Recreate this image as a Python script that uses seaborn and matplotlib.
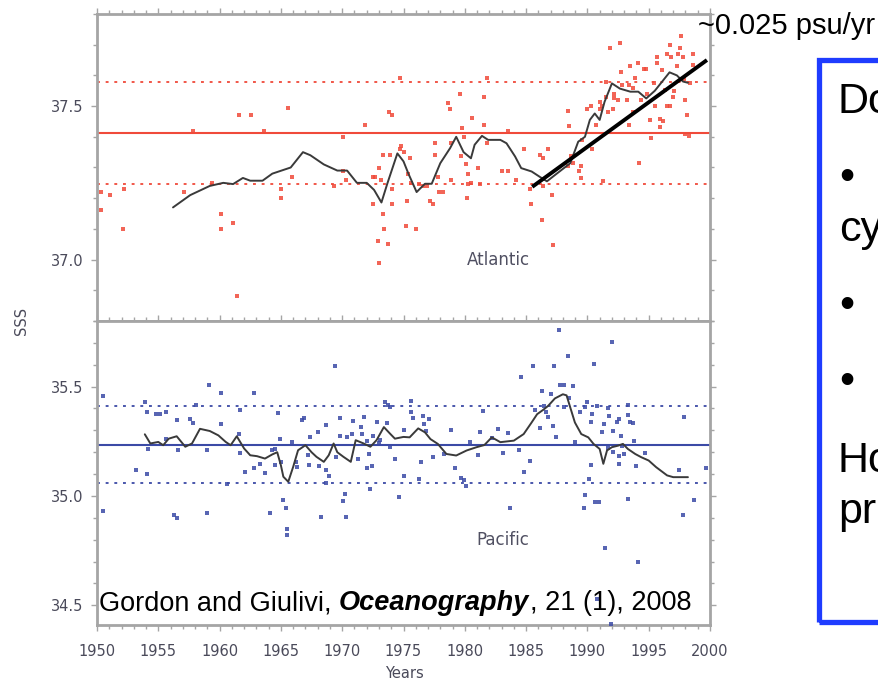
import numpy as np
import pandas as pd
import matplotlib
matplotlib.use("Agg")
import matplotlib.pyplot as plt
import seaborn as sns
from matplotlib.ticker import MultipleLocator, FormatStrFormatter
from matplotlib.patches import Rectangle

# ---------------- data ----------------
atl_year = [
    1950.3, 1950.3, 1951.1, 1952.2, 1952.1, 1957.1, 1957.8, 1959.4, 1960.1, 1960.1,
    1961.1, 1961.6, 1962.6, 1961.4, 1963.6, 1965.6, 1965.0, 1965.0, 1965.9, 1969.3,
    1970.1, 1970.1, 1970.3, 1971.9, 1972.5, 1972.5, 1972.7, 1973.0, 1973.2, 1973.3,
    1973.9, 1973.8, 1974.1, 1973.3, 1973.4, 1972.9, 1973.7, 1973.0, 1974.1, 1974.1,
    1974.7, 1974.8, 1975.0, 1975.5, 1975.4, 1975.3, 1975.2, 1975.6, 1976.0, 1974.7,
    1976.3, 1976.6, 1976.9, 1977.2, 1977.4, 1977.6, 1977.6, 1977.8, 1977.9, 1978.2,
    1978.65, 1978.8, 1978.9, 1978.9, 1979.6, 1979.8, 1979.9, 1979.66, 1980.1, 1980.3,
    1980.3, 1980.15, 1980.5, 1980.6, 1981.1, 1981.2, 1981.6, 1981.6, 1981.8, 1981.8,
    1983.0, 1983.5, 1983.5, 1984.2, 1984.8, 1985.3, 1985.4, 1986.1, 1986.4, 1986.8,
    1986.4, 1986.3, 1987.1, 1987.2, 1988.4, 1988.5, 1988.4, 1988.7, 1988.85, 1989.3,
    1989.5, 1989.6, 1989.5, 1990.0, 1990.3, 1990.4, 1990.7, 1991.0, 1991.2, 1991.3,
    1991.5, 1991.5, 1991.7, 1991.85, 1992.2, 1992.2, 1992.5, 1992.65, 1992.7, 1992.8,
    1993.2, 1993.4, 1993.5, 1993.7, 1993.9, 1994.1, 1994.2, 1994.4, 1994.6, 1994.8,
    1994.9, 1995.1, 1995.2, 1995.4, 1995.5, 1995.65, 1995.7, 1995.9, 1996.05, 1996.2,
    1996.3, 1996.5, 1996.7, 1996.8, 1996.95, 1997.1, 1997.3, 1997.4, 1997.55, 1997.6,
    1997.76, 1997.87, 1998.0, 1998.1, 1998.0, 1998.3, 1998.4, 1998.6, 1998.6, 1996.5,
    1996.7, 1995.9, 1993.4, 1993.7, 1992.1, 1991.0,
]
atl_sss = [
    37.22, 37.16, 37.21, 37.23, 37.10, 37.22, 37.42, 37.25, 37.15, 37.10,
    37.12, 37.47, 37.47, 36.88, 37.42, 37.495, 37.23, 37.20, 37.27, 37.24,
    37.40, 37.29, 37.26, 37.44, 37.18, 37.27, 37.27, 37.30, 37.26, 37.34,
    37.34, 37.48, 37.47, 37.15, 37.10, 37.06, 37.05, 36.99, 37.23, 37.18,
    37.36, 37.37, 37.35, 37.33, 37.28, 37.19, 37.11, 37.25, 37.10, 37.59,
    37.247, 37.24, 37.24, 37.19, 37.18, 37.38, 37.34, 37.27, 37.22, 37.22,
    37.51, 37.49, 37.38, 37.26, 37.54, 37.43, 37.40, 37.336, 37.31, 37.28,
    37.247, 37.20, 37.25, 37.46, 37.30, 37.247, 37.53, 37.44, 37.59, 37.38,
    37.29, 37.29, 37.42, 37.26, 37.36, 37.23, 37.18, 37.34, 37.33, 37.36,
    37.24, 37.13, 37.21, 37.046, 37.485, 37.435, 37.305, 37.336, 37.316, 37.29,
    37.265, 37.39, 37.305, 37.49, 37.50, 37.36, 37.44, 37.49, 37.50, 37.255,
    37.58, 37.53, 37.48, 37.69, 37.54, 37.525, 37.52, 37.704, 37.61, 37.57,
    37.52, 37.57, 37.63, 37.56, 37.59, 37.64, 37.314, 37.52, 37.62, 37.62,
    37.54, 37.455, 37.395, 37.574, 37.50, 37.66, 37.64, 37.457, 37.617, 37.45,
    37.554, 37.67, 37.70, 37.66, 37.53, 37.55, 37.63, 37.67, 37.69, 37.727,
    37.66, 37.587, 37.52, 37.47, 37.41, 37.403, 37.574, 37.67, 37.633, 37.50,
    37.50, 37.433, 37.44, 37.48, 37.49, 37.514,
]

atl_rm_year = [
    1956.2, 1957.6, 1959.2, 1960.3, 1961.1, 1961.9, 1962.5, 1963.5, 1964.3, 1965.8,
    1966.8, 1967.4, 1968.5, 1969.6, 1970.4, 1971.2, 1972.0, 1972.6, 1973.2, 1973.7,
    1974.5, 1975.0, 1975.4, 1976.07, 1976.75, 1977.3, 1978.0, 1978.8, 1979.3, 1979.9,
    1980.5, 1980.8, 1981.4, 1981.9, 1982.9, 1983.4, 1984.1, 1984.6, 1985.45, 1986.1,
    1986.7, 1987.5, 1988.6, 1989.25, 1989.8, 1990.2, 1990.6, 1991.0, 1991.4, 1992.0,
    1992.65, 1993.5, 1994.15, 1994.8, 1995.5, 1996.2, 1996.7, 1997.3, 1997.8, 1998.2,
]
atl_rm_sss = [
    37.17, 37.21, 37.24, 37.25, 37.246, 37.266, 37.257, 37.257, 37.28, 37.30,
    37.35, 37.34, 37.31, 37.29, 37.29, 37.25, 37.25, 37.227, 37.186, 37.25,
    37.346, 37.32, 37.28, 37.22, 37.247, 37.247, 37.314, 37.363, 37.40, 37.35,
    37.33, 37.374, 37.403, 37.39, 37.39, 37.379, 37.336, 37.298, 37.287, 37.27,
    37.255, 37.28, 37.314, 37.384, 37.40, 37.455, 37.476, 37.455, 37.514, 37.574,
    37.557, 37.547, 37.547, 37.525, 37.55, 37.585, 37.61, 37.60, 37.58, 37.576,
]

pac_year = [
    1950.5, 1950.5, 1953.2, 1953.9, 1954.1, 1954.2, 1954.1, 1954.8, 1955.1, 1955.6,
    1955.6, 1956.5, 1956.6, 1956.3, 1956.5, 1957.6, 1957.8, 1958.1, 1959.0, 1959.0,
    1959.1, 1960.1, 1960.1, 1960.6, 1961.6, 1961.7, 1961.7, 1962.1, 1962.8, 1962.8,
    1963.3, 1963.7, 1964.1, 1964.3, 1964.5, 1964.5, 1964.8, 1964.9, 1965.0, 1965.2,
    1965.4, 1965.5, 1965.5, 1965.9, 1966.2, 1966.3, 1966.7, 1966.9, 1967.2, 1967.3,
    1967.4, 1968.0, 1968.1, 1968.3, 1968.7, 1968.7, 1968.9, 1968.7, 1969.4, 1969.5,
    1969.8, 1969.8, 1970.2, 1970.1, 1970.3, 1970.4, 1970.8, 1970.9, 1971.3, 1971.5,
    1971.8, 1971.6, 1972.0, 1972.0, 1972.2, 1972.3, 1972.4, 1972.5, 1972.8, 1973.0,
    1973.1, 1973.5, 1973.7, 1973.9, 1973.65, 1973.9, 1974.3, 1974.6, 1975.0, 1975.0,
    1975.6, 1975.6, 1975.8,
    1976.3, 1976.4, 1976.6, 1976.7, 1977.1, 1976.8, 1977.4, 1978.3, 1978.9, 1979.2,
    1979.7, 1979.9, 1980.1, 1980.4, 1981.1, 1981.2, 1981.5, 1982.2, 1982.7, 1983.1,
    1983.5, 1983.7, 1984.4, 1984.6, 1984.8, 1985.3, 1985.6, 1985.7, 1986.1, 1986.3,
    1986.5, 1986.6, 1986.8, 1987.0, 1987.2, 1987.3, 1987.4, 1987.7, 1987.8, 1988.1,
    1988.4, 1988.5, 1988.1, 1988.8, 1989.0, 1989.4, 1989.8, 1990.0, 1990.1, 1989.8,
    1989.7, 1990.3, 1990.4, 1990.3, 1990.5, 1990.6, 1990.97, 1990.8, 1991.2, 1991.35,
    1991.4, 1991.7, 1991.8, 1992.0, 1992.1, 1992.4, 1992.6, 1992.7, 1992.6, 1993.3,
    1993.3, 1993.5, 1993.7, 1993.8, 1993.3, 1994.0, 1994.7, 1997.5, 1997.9, 1997.8,
    1998.7, 1999.7, 1991.7, 1992.1, 1992.6, 1992.8, 1993.0, 1990.75, 1991.95, 1994.1,
]
pac_sss = [
    35.456, 34.929, 35.12, 35.43, 35.383, 35.217, 35.10, 35.373, 35.373, 35.383,
    35.262, 35.349, 35.209, 34.914, 34.90, 35.353, 35.333, 35.414, 35.209, 34.921,
    35.509, 35.471, 35.327, 35.055, 35.282, 35.391, 35.197, 35.11, 35.13, 35.47,
    35.148, 35.106, 34.921, 35.212, 35.217, 35.14, 35.379, 35.262, 35.156, 34.982,
    34.944, 34.848, 34.823, 35.247, 35.156, 35.133, 35.349, 35.358, 35.186, 35.14,
    35.27, 35.292, 35.136, 34.906, 35.12, 35.326, 35.09, 35.057, 35.595, 35.179,
    35.273, 35.358, 35.01, 34.979, 34.906, 35.27, 35.282, 35.345, 35.167, 35.315,
    35.36, 35.285, 35.25, 35.13, 35.19, 35.03, 35.137, 35.273, 35.338, 35.24,
    35.255, 35.43, 35.414, 35.406, 35.333, 35.225, 35.171, 34.994, 35.09, 35.30,
    35.433, 35.383, 35.358,
    35.079, 35.155, 35.367, 35.329, 35.352, 35.299, 35.177, 35.192, 35.303, 35.127,
    35.082, 35.071, 35.046, 35.249, 35.188, 35.294, 35.39, 35.264, 35.306, 35.197,
    35.288, 34.946, 35.212, 35.546, 35.109, 35.162, 35.594, 35.394, 35.309, 35.48,
    35.412, 35.385, 35.36, 35.465, 35.321, 35.594, 35.268, 35.758, 35.506, 35.506,
    35.64, 35.446, 35.405, 35.503, 35.249, 35.385, 35.405, 35.43, 35.079, 35.003,
    34.946, 35.34, 35.374, 35.143, 35.602, 34.973, 34.973, 35.412, 35.291, 35.329,
    34.764, 35.40, 35.367, 35.703, 35.299, 35.336, 35.352, 35.276, 35.147, 35.415,
    35.37, 35.336, 35.333, 35.253, 34.985, 35.139, 35.197, 35.117, 35.359, 34.915,
    34.98, 35.127, 35.22, 35.20, 35.185, 35.23, 35.19, 34.53, 34.415, 34.70,
]

pac_rm_year = [
    1953.9, 1954.35, 1955.0, 1955.4, 1955.85, 1956.5, 1957.2, 1957.75, 1958.4, 1959.2,
    1959.9, 1960.5, 1960.9, 1961.4, 1962.0, 1962.5, 1963.05, 1963.7, 1964.3, 1964.7,
    1965.0, 1965.2, 1965.6, 1966.0, 1966.4, 1967.0, 1967.5, 1967.9, 1968.5, 1968.9,
    1969.3, 1969.6, 1970.1, 1970.7, 1971.1, 1971.75, 1972.3, 1972.8, 1973.4, 1973.9,
    1974.3, 1975.0, 1975.5, 1976.2, 1976.75, 1977.2, 1977.8, 1978.5, 1979.3, 1980.15,
    1980.96, 1981.6, 1982.2, 1982.9, 1984.0, 1984.8, 1985.45, 1985.9, 1986.4, 1986.8,
    1987.35, 1988.0, 1988.3, 1988.6, 1988.98, 1989.5, 1990.07, 1990.5, 1991.0, 1991.3,
    1991.6, 1992.0, 1992.5, 1992.9, 1993.3, 1993.9, 1994.4, 1995.0, 1995.6, 1996.5,
    1997.0, 1998.2,
]
pac_rm_sss = [
    35.282, 35.24, 35.247, 35.232, 35.262, 35.273, 35.225, 35.24, 35.307, 35.297,
    35.277, 35.247, 35.232, 35.273, 35.217, 35.186, 35.182, 35.171, 35.19, 35.20,
    35.14, 35.088, 35.065, 35.133, 35.209, 35.232, 35.20, 35.179, 35.156, 35.186,
    35.24, 35.20, 35.179, 35.156, 35.255, 35.24, 35.225, 35.255, 35.315, 35.285,
    35.262, 35.27, 35.268, 35.309, 35.291, 35.26, 35.238, 35.192, 35.185, 35.208,
    35.223, 35.233, 35.268, 35.246, 35.253, 35.283, 35.336, 35.374, 35.394, 35.412,
    35.446, 35.465, 35.46, 35.405, 35.336, 35.283, 35.268, 35.238, 35.215, 35.147,
    35.208, 35.223, 35.23, 35.238, 35.215, 35.192, 35.177, 35.162, 35.132, 35.094,
    35.086, 35.086,
]

atl_mean, atl_std = 37.413, 0.166
pac_mean, pac_std = 35.235, 0.176

trend_year = [1985.5, 1999.75]
trend_sss = [37.237, 37.65]

atl_ylim = (36.8, 37.8)
pac_ylim = (34.41, 35.8)
year_lim = (1950, 2000)

# ---------------- style ----------------
sns.set_theme(style="white")
plt.rcParams['font.family'] = ['DejaVu Sans']

RED = '#f04a3a'
BLUE = '#3b4aa6'
RUN = '#3a3a3a'
SPINE = '#a5a5a5'
LABEL = '#4a4a5a'
SLIDE_FONT = ['Liberation Sans', 'DejaVu Sans']

W, H = 879, 683
fig = plt.figure(figsize=(W / 100, H / 100), dpi=100)
fig.patch.set_facecolor('white')


def fx(px):
    return px / W


def fy(py):
    return 1 - py / H


ax_top = fig.add_axes([fx(97), fy(321), fx(710) - fx(97), fy(14) - fy(321)])
ax_bot = fig.add_axes([fx(97), fy(625), fx(710) - fx(97), fy(321) - fy(625)])

atl_df = pd.DataFrame({'year': atl_year, 'sss': atl_sss})
pac_df = pd.DataFrame({'year': pac_year, 'sss': pac_sss})
atl_rm = pd.DataFrame({'year': atl_rm_year, 'sss': atl_rm_sss})
pac_rm = pd.DataFrame({'year': pac_rm_year, 'sss': pac_rm_sss})

for ax, pts, rm, col, mean, std, ylim in [
    (ax_top, atl_df, atl_rm, RED, atl_mean, atl_std, atl_ylim),
    (ax_bot, pac_df, pac_rm, BLUE, pac_mean, pac_std, pac_ylim),
]:
    ax.axhline(mean, color=col, lw=1.5, zorder=2)
    ax.axhline(mean + std, color=col, lw=1.3, ls=(0, (1.6, 3.2)), zorder=2)
    ax.axhline(mean - std, color=col, lw=1.3, ls=(0, (1.6, 3.2)), zorder=2)
    sns.scatterplot(data=pts, x='year', y='sss', ax=ax, color=col, marker='s',
                    s=12, linewidth=0, alpha=0.85, legend=False, zorder=3)
    sns.lineplot(data=rm, x='year', y='sss', ax=ax, color=RUN, lw=1.4,
                 estimator=None, sort=False, zorder=4)
    ax.set_xlim(*year_lim)
    ax.set_ylim(*ylim)
    ax.set_xlabel('')
    ax.set_ylabel('')
    for s in ax.spines.values():
        s.set_visible(True)
        s.set_color(SPINE)
        s.set_linewidth(2.0)
    ax.xaxis.set_major_locator(MultipleLocator(5))
    ax.xaxis.set_minor_locator(MultipleLocator(1))
    ax.yaxis.set_major_locator(MultipleLocator(0.5))
    ax.yaxis.set_minor_locator(MultipleLocator(0.1))
    ax.yaxis.set_major_formatter(FormatStrFormatter('%.1f'))
    ax.tick_params(which='both', direction='out', color=SPINE, width=1.0,
                   labelcolor=LABEL, labelsize=10.5)
    ax.tick_params(which='major', length=4.5)
    ax.tick_params(which='minor', length=2.8)
    ax.tick_params(axis='y', which='major', pad=5)
    ax.set_facecolor('white')

ax_top.tick_params(which='both', top=True, bottom=False, left=True, right=True,
                   labelbottom=False, labelleft=True)
ax_bot.tick_params(which='both', top=True, bottom=True, left=True, right=True,
                   labelbottom=True, labelleft=True)
ax_bot.tick_params(axis='x', which='major', pad=9)

# trend line
ax_top.plot(trend_year, trend_sss, color='black', lw=2.8, solid_capstyle='butt',
            clip_on=False, zorder=6)

# panel labels
ax_top.text((498 - 97) / 613, (321 - 260) / 307, 'Atlantic', transform=ax_top.transAxes,
            ha='center', va='center', fontsize=12, color='#505062')
ax_bot.text((503 - 97) / 613, (625 - 540) / 304, 'Pacific', transform=ax_bot.transAxes,
            ha='center', va='center', fontsize=12, color='#505062')

fig.text(fx(22), fy(321), 'SSS', rotation=90, ha='center', va='center',
         fontsize=10.5, color=LABEL)
fig.text(fx(404), fy(673), 'Years', ha='center', va='center',
         fontsize=10.5, color=LABEL)

# slide annotations
fig.text(fx(698), fy(34), '~0.025 psu/yr', family=SLIDE_FONT, fontsize=21,
         va='baseline', ha='left', color='black')

fig.canvas.draw()
rend = fig.canvas.get_renderer()
t1 = fig.text(fx(99), fy(610), 'Gordon and Giulivi,', family=SLIDE_FONT, fontsize=19.5,
              va='baseline', color='black', zorder=10)
bb1 = t1.get_window_extent(rend)
space = 0.278 * 19.5 * 100 / 72
t2 = fig.text((bb1.x1 + space) / W, fy(610), 'Oceanography', family=SLIDE_FONT,
              fontsize=19.5, style='italic', weight='bold', va='baseline',
              color='black', zorder=10)
bb2 = t2.get_window_extent(rend)
fig.text(bb2.x1 / W, fy(610), ', 21 (1), 2008', family=SLIDE_FONT, fontsize=19.5,
         va='baseline', color='black', zorder=10)

# blue framed text box (clipped at the right edge of the slide, as in the source)
box = Rectangle((fx(819), fy(622)), fx(980) - fx(819), fy(60) - fy(622),
                transform=fig.transFigure, fill=False, edgecolor='#1f3cff',
                lw=3.8, clip_on=False)
fig.add_artist(box)

BOX_FS = 31
for txt, x, y in [('Do', 838, 113), ('\u2022', 839, 189), ('cy', 839, 241),
                  ('\u2022', 839, 317), ('\u2022', 839, 393), ('Ho', 838, 472),
                  ('pr', 838, 523)]:
    fig.text(fx(x), fy(y), txt, family=SLIDE_FONT, fontsize=BOX_FS,
             va='baseline', ha='left', color='black')

fig.savefig('out.png', dpi=100, facecolor='white')
